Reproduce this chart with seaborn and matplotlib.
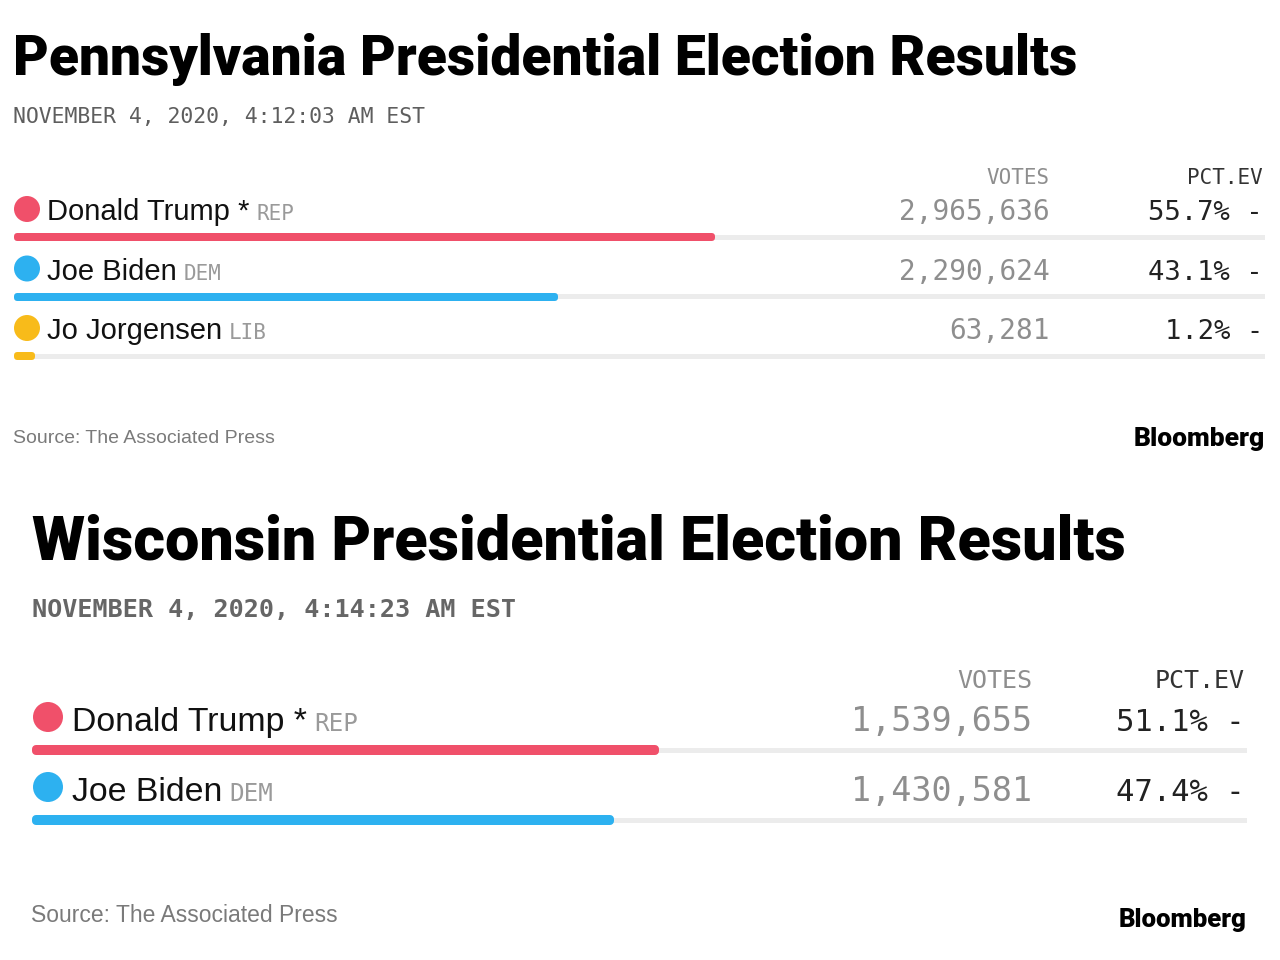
import numpy as np
import matplotlib
matplotlib.use("Agg")
import matplotlib.pyplot as plt
import matplotlib.transforms as mtransforms
import seaborn as sns

# data
pa_candidates = ["Donald Trump *", "Joe Biden", "Jo Jorgensen"]
pa_parties = ["REP", "DEM", "LIB"]
pa_votes = [2965636, 2290624, 63281]
pa_pct = [55.7, 43.1, 1.2]

wi_candidates = ["Donald Trump *", "Joe Biden"]
wi_parties = ["REP", "DEM"]
wi_votes = [1539655, 1430581]
wi_pct = [51.1, 47.4]

party_colors = {"REP": "#f0506a", "DEM": "#2db1f0", "LIB": "#f8bb1a"}

W, H = 1280, 960
sns.set_theme(style="white")
SANS = ["Liberation Sans", "DejaVu Sans"]
HEAVY = ["Roboto", "Liberation Sans", "DejaVu Sans"]
MONO = ["DejaVu Sans Mono"]
plt.rcParams["font.family"] = SANS

fig = plt.figure(figsize=(12.8, 9.6), dpi=100)
fig.patch.set_facecolor("white")


def fxy(x, y):
    return x / W, 1 - y / H


def fit_text(t, width_px):
    fig.canvas.draw()
    bb = t.get_window_extent()
    t.set_fontsize(t.get_fontsize() * width_px / bb.width)


def panel(names, parties, votes, pct, left, right, bar0, step,
          name_dx, base_up, dot_dx, dot_up, dot_d, votes_x, pct_x, head_up,
          fs_name, fs_party, fs_votes, fs_pct, fs_head, bar_px, track_px):
    n = len(names)
    top = bar0 - step / 2
    ax = fig.add_axes([left / W, 1 - (top + n * step) / H, (right - left) / W, n * step / H])
    colors = [party_colors[p] for p in parties]

    # grey track behind each bar
    sns.barplot(x=[100] * n, y=names, color="#ececec", saturation=1, width=track_px / step,
                orient="h", errorbar=None, ax=ax, linewidth=0)
    sns.barplot(x=pct, y=names, hue=names, palette=colors, saturation=1, width=2 / step,
                orient="h", errorbar=None, legend=False, ax=ax)
    for p in ax.patches[n:]:
        p.set_edgecolor(p.get_facecolor())
        p.set_linewidth((bar_px - 2) * 0.72)
        p.set_joinstyle("round")
        p.set_clip_on(False)
    ax.set_xlim(0, 100)
    ax.set_ylim(n - 0.5, -0.5)
    ax.set_axis_off()

    ys = np.arange(n)
    dot_tr = mtransforms.blended_transform_factory(ax.transAxes, ax.transData) + \
        mtransforms.ScaledTranslation(dot_dx / 100, dot_up / 100, fig.dpi_scale_trans)
    ax.scatter(np.zeros(n), ys, s=(dot_d * 0.72) ** 2, c=colors, transform=dot_tr,
               clip_on=False, linewidths=0)

    for i in range(n):
        nm = ax.annotate(names[i], xy=(0, i), xycoords=("axes fraction", "data"),
                         xytext=(name_dx * 0.72, base_up * 0.72), textcoords="offset points",
                         fontsize=fs_name, color="#111111", va="baseline", ha="left")
        ax.annotate(parties[i], xy=(1, i), xycoords=(nm, "data"),
                    xytext=(7 * 0.72, base_up * 0.72), textcoords="offset points",
                    fontsize=fs_party, family=MONO, color="#9a9a9a", va="baseline", ha="left")
        ax.annotate(f"{votes[i]:,}", xy=(votes_x / W, i), xycoords=("figure fraction", "data"),
                    xytext=(0, base_up * 0.72), textcoords="offset points",
                    fontsize=fs_votes, family=MONO, color="#8e8e8e", va="baseline", ha="right")
        ax.annotate(f"{pct[i]:.1f}% -", xy=(pct_x / W, i), xycoords=("figure fraction", "data"),
                    xytext=(0, base_up * 0.72), textcoords="offset points",
                    fontsize=fs_pct, family=MONO, color="#222222", va="baseline", ha="right")

    ax.annotate("VOTES", xy=(votes_x / W, 0), xycoords=("figure fraction", "data"),
                xytext=(0, head_up * 0.72), textcoords="offset points",
                fontsize=fs_head, family=MONO, color="#8e8e8e", va="baseline", ha="right")
    ax.annotate("PCT.EV", xy=(pct_x / W, 0), xycoords=("figure fraction", "data"),
                xytext=(0, head_up * 0.72), textcoords="offset points",
                fontsize=fs_head, family=MONO, color="#333333", va="baseline", ha="right")
    return ax


# Pennsylvania
panel(pa_candidates, pa_parties, pa_votes, pa_pct, left=17, right=1265, bar0=237, step=59.5,
      name_dx=30, base_up=17, dot_dx=10, dot_up=28, dot_d=26, votes_x=1050, pct_x=1263,
      head_up=53, fs_name=21, fs_party=15, fs_votes=20, fs_pct=19.5, fs_head=15,
      bar_px=8, track_px=5)

# Wisconsin
panel(wi_candidates, wi_parties, wi_votes, wi_pct, left=36, right=1247, bar0=750, step=70,
      name_dx=36, base_up=19, dot_dx=12, dot_up=33, dot_d=30, votes_x=1032, pct_x=1245,
      head_up=62, fs_name=24.4, fs_party=17.5, fs_votes=24, fs_pct=22, fs_head=18,
      bar_px=10, track_px=5)

t1 = fig.text(*fxy(13, 75), "Pennsylvania Presidential Election Results", fontsize=40,
              fontweight="black", family=HEAVY, color="black", va="baseline")
t2 = fig.text(*fxy(32, 560), "Wisconsin Presidential Election Results", fontsize=40,
              fontweight="black", family=HEAVY, color="black", va="baseline")
d1 = fig.text(*fxy(13, 123), "NOVEMBER 4, 2020, 4:12:03 AM EST", fontsize=15,
              family=MONO, color="#5e5e5e", va="baseline")
d2 = fig.text(*fxy(32, 617), "NOVEMBER 4, 2020, 4:14:23 AM EST", fontsize=17,
              family=MONO, fontweight="bold", color="#666666", va="baseline")
fit_text(t1, 1062)
fit_text(t2, 1093)
fit_text(d1, 414)
fit_text(d2, 485)

fig.text(*fxy(13, 443), "Source: The Associated Press", fontsize=14, color="#7a7a7a", va="baseline")
fig.text(*fxy(1265, 446), "Bloomberg", fontsize=19, fontweight="black", family=HEAVY,
         color="black", va="baseline", ha="right")
fig.text(*fxy(31, 922), "Source: The Associated Press", fontsize=16.5, color="#7a7a7a", va="baseline")
fig.text(*fxy(1247, 927), "Bloomberg", fontsize=18.5, fontweight="black", family=HEAVY,
         color="black", va="baseline", ha="right")

fig.savefig("out.png", dpi=100, facecolor="white")
